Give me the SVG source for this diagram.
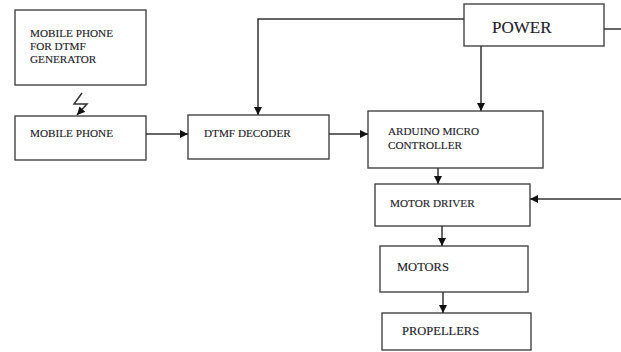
<svg xmlns="http://www.w3.org/2000/svg" width="621" height="352" viewBox="0 0 621 352">
<style>
.box{fill:#fff;stroke:#444;stroke-width:1.4}
.t{font-family:"Liberation Serif","Times New Roman",serif;font-size:11.2px;fill:#1e1e2a;stroke:#1e1e2a;stroke-width:0.15}
.tl{font-size:12.5px}
.c{fill:none;stroke:#333;stroke-width:1.5}
</style>
<defs>
<marker id="ah" viewBox="0 0 8 8" refX="8" refY="4" markerWidth="8" markerHeight="8" markerUnits="userSpaceOnUse" orient="auto">
<path d="M0,0 L8,4 L0,8 Z" fill="#111"/>
</marker>
</defs>
<rect width="621" height="352" fill="#fff"/>
<g id="n-gen">
<rect class="box" x="15" y="10" width="131" height="75"/>
<text class="t" x="30" y="37">MOBILE PHONE</text>
<text class="t" x="30" y="50">FOR DTMF</text>
<text class="t" x="30" y="63">GENERATOR</text>
</g>
<g id="n-phone">
<rect class="box" x="15" y="116" width="131" height="44"/>
<text class="t" x="30" y="137">MOBILE PHONE</text>
</g>
<g id="n-dtmf">
<rect class="box" x="188" y="115" width="141" height="44"/>
<text class="t" x="204" y="137">DTMF DECODER</text>
</g>
<g id="n-arduino">
<rect class="box" x="368" y="111" width="175" height="57"/>
<text class="t" x="388" y="135">ARDUINO MICRO</text>
<text class="t" x="388" y="149">CONTROLLER</text>
</g>
<g id="n-power">
<rect class="box" x="464" y="4" width="140" height="42"/>
<text class="t" x="492" y="33" style="font-size:17px">POWER</text>
</g>
<g id="n-driver">
<rect class="box" x="375" y="184" width="155" height="42"/>
<text class="t" x="390" y="207">MOTOR DRIVER</text>
</g>
<g id="n-motors">
<rect class="box" x="380" y="246" width="148" height="46"/>
<text class="t tl" x="397" y="271">MOTORS</text>
</g>
<g id="n-props">
<rect class="box" x="382" y="313" width="149" height="37"/>
<text class="t tl" x="402" y="335">PROPELLERS</text>
</g>
<g id="connectors">
<path class="c" d="M82,93 L74,104 L87,104 L77,115" marker-end="url(#ah)" stroke-width="1.3"/>
<path class="c" d="M146,134 L188,134" marker-end="url(#ah)"/>
<path class="c" d="M329,134 L368,134" marker-end="url(#ah)"/>
<path class="c" d="M464,19 L258,19 L258,115" marker-end="url(#ah)"/>
<path class="c" d="M604,29 L621,29"/>
<path class="c" d="M481,46 L481,111" marker-end="url(#ah)"/>
<path class="c" d="M438,168 L438,184" marker-end="url(#ah)"/>
<path class="c" d="M621,199 L530,199" marker-end="url(#ah)"/>
<path class="c" d="M442,226 L442,246" marker-end="url(#ah)"/>
<path class="c" d="M443,292 L443,313" marker-end="url(#ah)"/>
</g>
</svg>
